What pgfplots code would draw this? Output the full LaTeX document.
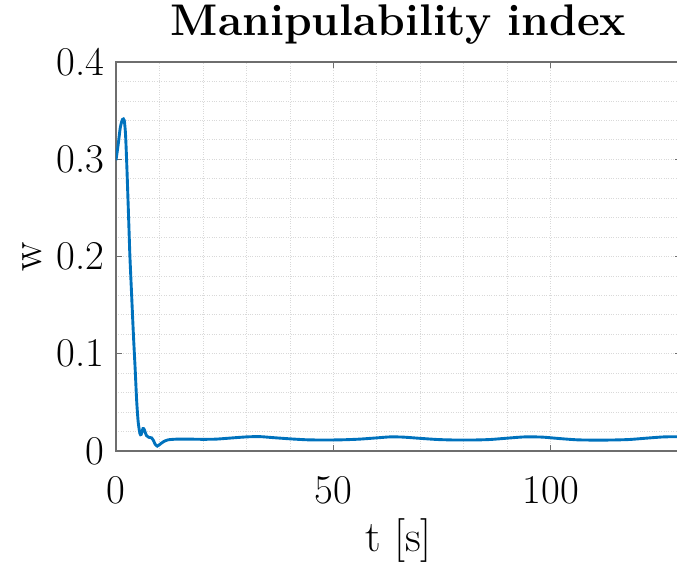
\documentclass[border=0pt]{standalone}
\usepackage{pgfplots}
\pgfplotsset{compat=1.18}
\definecolor{mblue}{RGB}{0,114,189}
\definecolor{axgray}{RGB}{110,110,110}
\begin{document}
\begin{tikzpicture}
% page size: the axis box starts 116bp from the left and runs past the right edge
\useasboundingbox (-116bp,-116bp) rectangle (561bp,451bp);
\begin{axis}[
  at={(0,0)}, anchor=south west,
  scale only axis,
  width=565.2bp, height=389bp,
  xmin=0, xmax=130, ymin=0, ymax=0.4,
  xtick={0,50,100}, ytick={0,0.1,0.2,0.3,0.4},
  minor x tick num=4, minor y tick num=4,
  grid=both,
  major grid style={gray!30, dotted, line width=0.8pt},
  minor grid style={gray!30, dotted, line width=0.8pt},
  tick align=inside,
  major tick length=6bp, minor tick length=0pt,
  tick style={axgray, line width=1.2pt},
  axis line style={axgray, line width=1.4pt},
  /pgf/number format/assume math mode=true,
  tick label style={font=\fontsize{41}{43}\selectfont},
  yticklabel style={/pgf/number format/fixed, xshift=-8bp},
  xticklabel style={yshift=-22bp},
  title={\textbf{Manipulability index}},
  title style={font=\fontsize{44.5}{46}\selectfont, at={(axis description cs:0.5,1)}, anchor=base, yshift=21bp},
  xlabel={t [s]},
  xlabel style={font=\fontsize{44}{46}\selectfont, at={(axis description cs:0.5,0)}, anchor=base, yshift=-100bp},
  ylabel={w},
  ylabel style={font=\fontsize{44}{46}\selectfont, at={(axis description cs:-0.148,0.5)}, anchor=center},
]
\addplot[mblue, line width=2.9pt, smooth, tension=0.4] coordinates {
(0,0.299) (0.5,0.315) (1.0,0.333) (1.5,0.341) (1.9,0.340) (2.2,0.325)
(2.5,0.292) (2.9,0.24) (3.2,0.200) (3.6,0.160) (4.0,0.120) (4.4,0.085)
(4.75,0.052) (5.1,0.030) (5.5,0.018) (5.8,0.017) (6.2,0.023) (6.5,0.022)
(7.0,0.016) (7.6,0.014) (8.2,0.0135) (8.6,0.011) (9.0,0.007) (9.5,0.005)
(10.0,0.0065) (10.9,0.0095) (12,0.0115) (14,0.0122) (17,0.0122) (20,0.012)
(23,0.0122) (26,0.0132) (30,0.0145) (33,0.0148) (36,0.0138) (40,0.0125)
(44,0.0115) (48,0.0113) (52,0.0115) (56,0.0122) (60,0.0135) (63,0.0145)
(66,0.0143) (70,0.013) (74,0.0118) (78,0.0113) (82,0.0113) (86,0.0118)
(90,0.0132) (94,0.0145) (98,0.0143) (102,0.0128) (106,0.0115) (110,0.0112)
(114,0.0113) (118,0.0118) (122,0.0132) (126,0.0145) (130,0.0147)
};
\end{axis}
\end{tikzpicture}
\end{document}
